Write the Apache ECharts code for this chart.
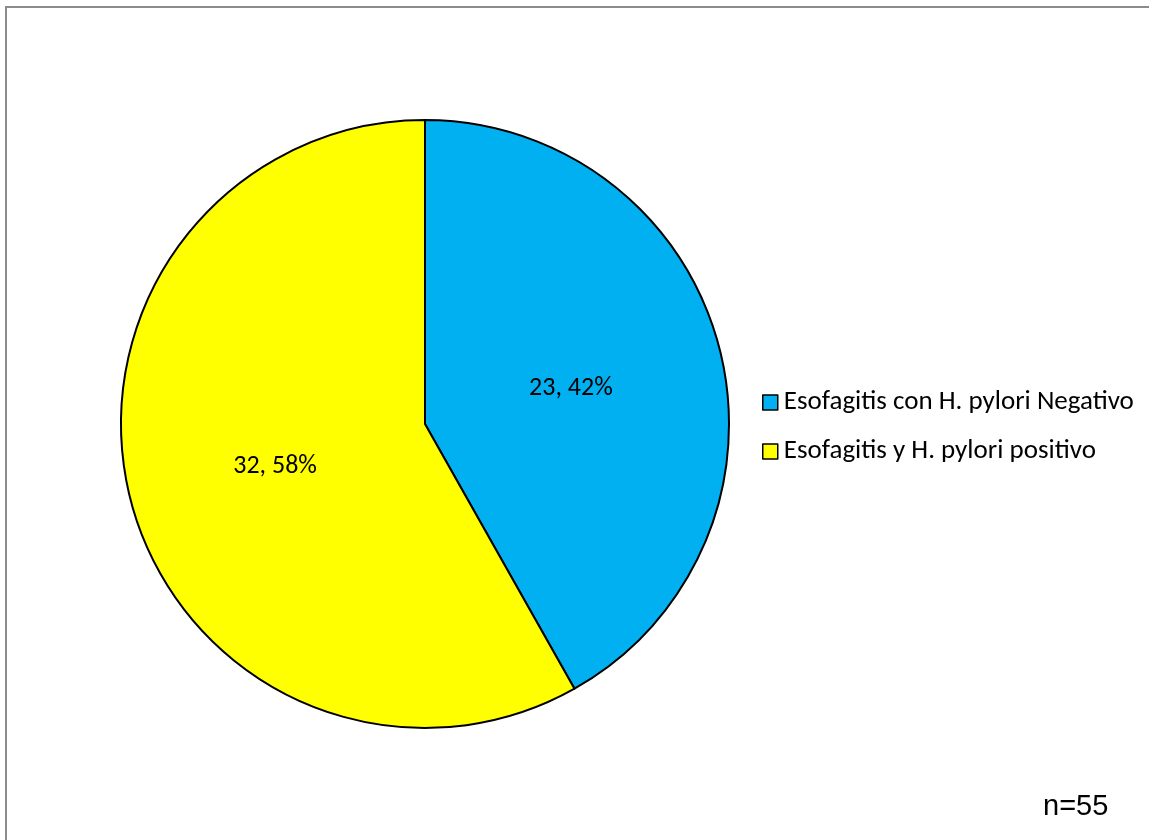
<!DOCTYPE html>
<html>
<head>
<meta charset="utf-8">
<script src="https://cdn.jsdelivr.net/npm/echarts@6/dist/echarts.min.js"></script>
<style>
  html, body { margin: 0; padding: 0; background: #fff; }
  #chart { width: 1149px; height: 840px; }
</style>
</head>
<body>
<div id="chart"></div>
<script>
// Esofagitis cases split by H. pylori result
const categories = ['Esofagitis con H. pylori Negativo', 'Esofagitis y H. pylori positivo'];
const counts = [23, 32];
const colors = ['#00B0F0', '#FFFF00'];
const sampleNote = 'n=55';

const total = counts.reduce((a, b) => a + b, 0);
const font = 'Carlito, Calibri, "Open Sans", "Noto Sans", sans-serif';

const chart = echarts.init(document.getElementById('chart'), null, { renderer: 'canvas' });
chart.setOption({
  animation: false,
  backgroundColor: '#fff',
  graphic: [
    {
      type: 'polyline',
      shape: { points: [[6, 840], [6, 7], [1149, 7]] },
      style: { stroke: '#8c8c8c', lineWidth: 2, fill: null }
    },
    {
      type: 'text',
      x: 1043,
      y: 807,
      style: {
        text: sampleNote,
        font: '29px "Liberation Sans", Arial, sans-serif',
        fill: '#000',
        verticalAlign: 'middle'
      }
    }
  ],
  legend: {
    orient: 'vertical',
    left: 757,
    top: 384,
    itemWidth: 15,
    itemHeight: 15,
    itemGap: 22,
    icon: 'rect',
    itemStyle: { borderColor: '#000', borderWidth: 1.5 },
    textStyle: { fontFamily: font, fontSize: 27, color: '#000', padding: [0, 0, 0, 1] },
    data: categories
  },
  series: [{
    type: 'pie',
    center: [425, 424],
    radius: 304,
    startAngle: 90,
    clockwise: true,
    avoidLabelOverlap: false,
    itemStyle: { borderColor: '#000', borderWidth: 2 },
    label: {
      position: 'inside',
      fontFamily: font,
      fontSize: 26,
      color: '#000',
      formatter: p => p.value + ', ' + Math.round(p.value / total * 100) + '%'
    },
    labelLine: { show: false },
    emphasis: { disabled: true },
    data: categories.map((name, i) => ({
      name,
      value: counts[i],
      itemStyle: { color: colors[i] },
      label: { offset: i === 0 ? [-4, 4] : [0, 3] }
    }))
  }]
});
</script>
</body>
</html>
